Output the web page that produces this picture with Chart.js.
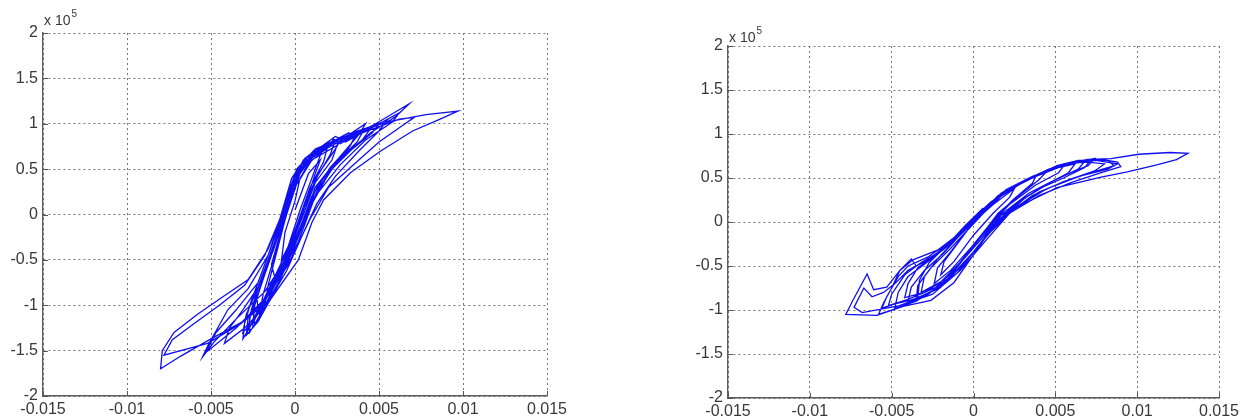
<!DOCTYPE html>
<html>
<head>
<meta charset="utf-8">
<script src="https://cdn.jsdelivr.net/npm/chart.js@4.4.1/dist/chart.umd.min.js"></script>
<style>
  html, body { margin: 0; padding: 0; background: #ffffff; }
  body { width: 1247px; height: 417px; position: relative; overflow: hidden; }
  .panel { position: absolute; top: 0; }
  #leftPanel { left: 0; }
  #rightPanel { left: 640px; }
</style>
</head>
<body>
<div class="panel" id="leftPanel"><canvas id="leftChart" width="600" height="417"></canvas></div>
<div class="panel" id="rightPanel"><canvas id="rightChart" width="607" height="417"></canvas></div>
<script>
// Tick labels shared by both hysteresis plots (force axis is in units of 10^5)
const xTickLabels = ['-0.015', '-0.01', '-0.005', '0', '0.005', '0.01', '0.015'];
const yTickLabels = ['-2', '-1.5', '-1', '-0.5', '0', '0.5', '1', '1.5', '2'];

// Left plot: drift vs. force (x 10^5), one row per loading cycle
const leftStrain = [
  0.0000, 0.0008, 0.0015, 0.0012, 0.0006, -0.0002, -0.0012, -0.0014, -0.0008, 0.0000,
  0.0010, 0.0025, 0.0022, 0.0012, 0.0004, -0.0007, -0.0022, -0.0023, -0.0014, -0.0004, 0.0004,
  0.0018, 0.0026, 0.0030, 0.0045, 0.0040, 0.0025, 0.0012, 0.0003, -0.0010, -0.0024, -0.0031, -0.0030, -0.0026, -0.0019, -0.0010, -0.0003, 0.0005,
  0.0014, 0.0020, 0.0025, 0.0048, 0.0068, 0.0060, 0.0045, 0.0030, 0.0016, 0.0007, -0.0004, -0.0018, -0.0035, -0.0048, -0.0055, -0.0052, -0.0040, -0.0028, -0.0016, -0.0008, 0.0001,
  0.0012, 0.0030, 0.0055, 0.0078, 0.0097, 0.0085, 0.0070, 0.0051, 0.0033, 0.0017, 0.0010, 0.0002, -0.0014, -0.0030, -0.0050, -0.0068, -0.0080, -0.0079, -0.0072, -0.0058, -0.0044, -0.0028, -0.0016, -0.0008, 0.0000, 0.0008,
  0.0022, 0.0040, 0.0062, 0.0071, 0.0064, 0.0050, 0.0035, 0.0020, 0.0009, -0.0004, -0.0018, -0.0032, -0.0052, -0.0078, -0.0073, -0.0060, -0.0045, -0.0030, -0.0018, -0.0009, -0.0002, 0.0006,
  0.0018, 0.0024, 0.0028, 0.0042, 0.0038, 0.0025, 0.0013, 0.0004, -0.0009, -0.0022, -0.0028, -0.0026, -0.0020, -0.0011, -0.0003, 0.0006,
  0.0020, 0.0045, 0.0062, 0.0058, 0.0042, 0.0027, 0.0012, 0.0002, -0.0014, -0.0035, -0.0053, -0.0047, -0.0035, -0.0022, -0.0013, -0.0004, 0.0004,
  0.0014, 0.0028, 0.0024, 0.0014, 0.0005, -0.0006, -0.0019, -0.0025, -0.0024, -0.0017, -0.0009, -0.0001, 0.0007, 0.0016, 0.0012, 0.0003, -0.0004, -0.0008, -0.0006, 0.0000, 0.0003,
  0.0010, 0.0022, 0.0034, 0.0050, 0.0046, 0.0034, 0.0022, 0.0011, 0.0002, -0.0009, -0.0020, -0.0027, -0.0027, -0.0021, -0.0014, -0.0006, 0.0002,
  0.0012, 0.0020, 0.0023, 0.0027, 0.0036, 0.0033, 0.0021, 0.0010, 0.0001, -0.0010, -0.0022, -0.0029, -0.0028, -0.0022, -0.0015, -0.0007, 0.0001,
  0.0009, 0.0019, 0.0017, 0.0009, 0.0001, -0.0008, -0.0017, -0.0021, -0.0019, -0.0012, -0.0005, 0.0003,
  0.0014, 0.0030, 0.0038, 0.0055, 0.0050, 0.0038, 0.0024, 0.0013, 0.0005, -0.0005, -0.0017, -0.0030, -0.0042, -0.0039, -0.0031, -0.0022, -0.0013, -0.0005, 0.0002,
  0.0011, 0.0024, 0.0021, 0.0012, 0.0004, -0.0006, -0.0015, -0.0018, -0.0016, -0.0010, -0.0003, 0.0004,
  0.0012, 0.0026, 0.0040, 0.0037, 0.0026, 0.0015, 0.0006, -0.0004, -0.0014, -0.0024, -0.0025, -0.0020, -0.0012, -0.0004, 0.0004,
  0.0016, 0.0032, 0.0036, 0.0031, 0.0020, 0.0009, -0.0001, -0.0012, -0.0026, -0.0031, -0.0029, -0.0023, -0.0016, -0.0008, 0.0000
];
const leftForceE5 = [
  0.05, 0.45, 0.60, 0.45, 0.10, -0.35, -0.70, -0.55, -0.15, 0.30,
  0.60, 0.76, 0.60, 0.35, -0.05, -0.55, -1.05, -0.85, -0.40, 0.10, 0.50,
  0.72, 0.84, 0.80, 0.95, 0.82, 0.60, 0.30, -0.20, -0.70, -1.15, -1.37, -1.20, -0.95, -0.60, -0.15, 0.30, 0.60,
  0.70, 0.80, 0.78, 1.00, 1.22, 1.08, 0.90, 0.66, 0.38, 0.00, -0.45, -0.85, -1.15, -1.40, -1.57, -1.45, -1.05, -0.82, -0.45, 0.00, 0.50,
  0.72, 0.86, 1.02, 1.10, 1.14, 1.04, 0.92, 0.70, 0.46, 0.16, -0.09, -0.50, -0.92, -1.17, -1.37, -1.56, -1.70, -1.50, -1.30, -1.10, -0.92, -0.72, -0.38, 0.00, 0.45, 0.65,
  0.80, 0.90, 1.05, 1.07, 0.98, 0.80, 0.55, 0.30, -0.05, -0.55, -0.95, -1.20, -1.42, -1.55, -1.38, -1.20, -1.00, -0.78, -0.45, -0.05, 0.40, 0.62,
  0.78, 0.86, 0.83, 1.00, 0.88, 0.60, 0.30, -0.10, -0.65, -1.05, -1.28, -1.05, -0.70, -0.25, 0.25, 0.58,
  0.78, 0.95, 1.12, 1.02, 0.82, 0.55, 0.20, -0.30, -0.85, -1.25, -1.52, -1.30, -1.05, -0.75, -0.30, 0.20, 0.55,
  0.70, 0.85, 0.72, 0.45, 0.05, -0.45, -0.95, -1.20, -1.00, -0.60, -0.15, 0.35, 0.60, 0.70, 0.50, 0.05, -0.35, -0.50, -0.20, 0.15, 0.40,
  0.62, 0.78, 0.90, 1.00, 0.90, 0.72, 0.50, 0.18, -0.25, -0.72, -1.08, -1.30, -1.12, -0.82, -0.45, 0.02, 0.45,
  0.66, 0.76, 0.83, 0.78, 0.88, 0.76, 0.52, 0.20, -0.25, -0.78, -1.18, -1.33, -1.15, -0.88, -0.50, -0.05, 0.42,
  0.62, 0.72, 0.58, 0.30, -0.12, -0.58, -0.98, -1.10, -0.88, -0.45, 0.00, 0.45,
  0.72, 0.86, 0.92, 1.04, 0.92, 0.70, 0.42, 0.12, -0.20, -0.62, -1.00, -1.25, -1.42, -1.25, -1.05, -0.80, -0.40, 0.05, 0.48,
  0.68, 0.82, 0.66, 0.38, 0.00, -0.50, -0.90, -1.00, -0.78, -0.35, 0.15, 0.52,
  0.66, 0.80, 0.90, 0.80, 0.60, 0.32, -0.05, -0.52, -0.92, -1.22, -1.05, -0.75, -0.30, 0.18, 0.50,
  0.74, 0.90, 0.86, 0.70, 0.45, 0.08, -0.38, -0.84, -1.20, -1.30, -1.10, -0.85, -0.52, -0.08, 0.38
];

// Right plot: drift vs. force (x 10^5), one row per loading cycle
const rightStrain = [
  0.0000, 0.0012, 0.0025, 0.0022, 0.0012, 0.0000, -0.0012, -0.0020, -0.0018, -0.0010, 0.0000,
  0.0015, 0.0030, 0.0045, 0.0040, 0.0028, 0.0015, 0.0003, -0.0010, -0.0025, -0.0035, -0.0034, -0.0026, -0.0015, -0.0005, 0.0006,
  0.0020, 0.0037, 0.0055, 0.0072, 0.0068, 0.0055, 0.0040, 0.0026, 0.0012, -0.0003, -0.0018, -0.0035, -0.0050, -0.0058, -0.0055, -0.0050, -0.0045, -0.0038, -0.0035, -0.0025, -0.0012, 0.0000,
  0.0015, 0.0035, 0.0055, 0.0070, 0.0084, 0.0101, 0.0120, 0.0131, 0.0124, 0.0112, 0.0094, 0.0078, 0.0051, 0.0029, 0.0017, 0.0002, -0.0012, -0.0026, -0.0043, -0.0059, -0.0078, -0.0074, -0.0065, -0.0061, -0.0053, -0.0045, -0.0037, -0.0022, -0.0010, 0.0000,
  0.0017, 0.0037, 0.0051, 0.0064, 0.0078, 0.0088, 0.0090, 0.0078, 0.0060, 0.0040, 0.0022, 0.0008, -0.0008, -0.0025, -0.0045, -0.0068, -0.0073, -0.0067, -0.0062, -0.0055, -0.0048, -0.0040, -0.0030, -0.0018, -0.0006, 0.0006,
  0.0020, 0.0040, 0.0060, 0.0075, 0.0088, 0.0082, 0.0065, 0.0045, 0.0025, 0.0010, -0.0005, -0.0020, -0.0040, -0.0052, -0.0050, -0.0042, -0.0032, -0.0020, -0.0008, 0.0004, 0.0015,
  0.0030, 0.0048, 0.0062, 0.0058, 0.0042, 0.0025, 0.0010, -0.0005, -0.0020, -0.0032, -0.0030, -0.0022, -0.0012, 0.0000, 0.0010,
  0.0022, 0.0040, 0.0055, 0.0068, 0.0064, 0.0048, 0.0032, 0.0016, 0.0002, -0.0014, -0.0028, -0.0040, -0.0038, -0.0030, -0.0018, -0.0006, 0.0006,
  0.0018, 0.0034, 0.0050, 0.0060, 0.0070, 0.0080, 0.0074, 0.0058, 0.0040, 0.0022, 0.0008, -0.0006, -0.0022, -0.0038, -0.0048, -0.0046, -0.0040, -0.0030, -0.0016, -0.0004, 0.0008,
  0.0024, 0.0038, 0.0036, 0.0024, 0.0012, -0.0001, -0.0014, -0.0024, -0.0022, -0.0014, -0.0004, 0.0008,
  0.0020, 0.0036, 0.0052, 0.0066, 0.0082, 0.0086, 0.0072, 0.0055, 0.0036, 0.0018, 0.0004, -0.0010, -0.0030, -0.0048, -0.0056, -0.0053, -0.0046, -0.0040, -0.0028, -0.0014, -0.0002, 0.0010,
  0.0016, 0.0030, 0.0046, 0.0056, 0.0052, 0.0038, 0.0022, 0.0008, -0.0006, -0.0018, -0.0030, -0.0042, -0.0040, -0.0034, -0.0024, -0.0012, 0.0000, 0.0010,
  0.0026, 0.0044, 0.0058, 0.0074, 0.0070, 0.0054, 0.0034, 0.0018, 0.0004, -0.0008, -0.0020, -0.0034, -0.0033, -0.0027, -0.0016, -0.0005, 0.0006
];
const rightForceE5 = [
  0.00, 0.20, 0.38, 0.28, 0.10, -0.15, -0.45, -0.60, -0.45, -0.25, 0.00,
  0.28, 0.45, 0.58, 0.48, 0.30, 0.10, -0.20, -0.50, -0.78, -0.88, -0.72, -0.52, -0.32, -0.12, 0.10,
  0.35, 0.51, 0.64, 0.71, 0.62, 0.50, 0.38, 0.20, -0.05, -0.35, -0.70, -0.90, -1.00, -1.05, -0.92, -0.75, -0.55, -0.42, -0.50, -0.40, -0.22, 0.00,
  0.30, 0.50, 0.66, 0.71, 0.72, 0.77, 0.79, 0.78, 0.71, 0.65, 0.57, 0.51, 0.39, 0.19, 0.08, -0.32, -0.69, -0.89, -0.96, -1.06, -1.05, -0.90, -0.59, -0.77, -0.74, -0.55, -0.43, -0.32, -0.15, 0.02,
  0.33, 0.52, 0.64, 0.70, 0.71, 0.68, 0.63, 0.56, 0.45, 0.30, 0.10, -0.20, -0.55, -0.82, -0.95, -1.03, -0.97, -0.75, -0.85, -0.80, -0.70, -0.55, -0.45, -0.30, -0.08, 0.12,
  0.36, 0.55, 0.67, 0.70, 0.66, 0.60, 0.52, 0.38, 0.15, -0.12, -0.45, -0.72, -0.88, -0.95, -0.82, -0.60, -0.46, -0.33, -0.12, 0.10, 0.27,
  0.45, 0.60, 0.66, 0.56, 0.40, 0.20, -0.08, -0.40, -0.68, -0.80, -0.62, -0.42, -0.22, 0.03, 0.20,
  0.38, 0.54, 0.64, 0.69, 0.60, 0.46, 0.28, 0.02, -0.30, -0.62, -0.82, -0.90, -0.74, -0.55, -0.35, -0.10, 0.14,
  0.34, 0.50, 0.62, 0.67, 0.68, 0.66, 0.58, 0.48, 0.34, 0.12, -0.15, -0.48, -0.76, -0.90, -0.97, -0.80, -0.62, -0.48, -0.28, -0.04, 0.18,
  0.40, 0.52, 0.44, 0.25, 0.02, -0.28, -0.55, -0.70, -0.52, -0.34, -0.10, 0.16,
  0.37, 0.52, 0.63, 0.70, 0.70, 0.64, 0.56, 0.46, 0.30, 0.05, -0.25, -0.58, -0.85, -0.93, -0.98, -0.85, -0.62, -0.50, -0.40, -0.22, -0.02, 0.22,
  0.30, 0.46, 0.60, 0.66, 0.56, 0.42, 0.20, -0.08, -0.42, -0.66, -0.80, -0.86, -0.70, -0.52, -0.38, -0.18, 0.04, 0.22,
  0.42, 0.57, 0.66, 0.72, 0.64, 0.52, 0.33, 0.10, -0.18, -0.46, -0.74, -0.86, -0.66, -0.46, -0.26, -0.04, 0.16
];

const FONT = '"Liberation Sans", Arial, Helvetica, sans-serif';
const TEXT_COLOR = '#383838';

// Draws the "x 10^5" multiplier above the force axis
const exponentLabel = {
  id: 'exponentLabel',
  afterDraw(chart, args, opts) {
    const { ctx, chartArea } = chart;
    const x = chartArea.left + opts.dx;
    const y = chartArea.top + opts.dy;
    ctx.save();
    ctx.fillStyle = TEXT_COLOR;
    ctx.textBaseline = 'alphabetic';
    ctx.textAlign = 'left';
    ctx.font = '14px ' + FONT;
    ctx.fillText('x 10', x, y);
    const w = ctx.measureText('x 10').width;
    ctx.font = '10px ' + FONT;
    ctx.fillText('5', x + w + 1, y - 8);
    ctx.restore();
  }
};

// Short tick marks pointing into the plot area
const innerTicks = {
  id: 'innerTicks',
  afterDatasetsDraw(chart) {
    const { ctx, chartArea, scales } = chart;
    ctx.save();
    ctx.strokeStyle = '#555555';
    ctx.lineWidth = 1;
    ctx.beginPath();
    scales.x.ticks.forEach(t => {
      const px = Math.round(scales.x.getPixelForValue(t.value)) + 0.5;
      ctx.moveTo(px, chartArea.bottom);
      ctx.lineTo(px, chartArea.bottom - 5);
    });
    scales.y.ticks.forEach(t => {
      const py = Math.round(scales.y.getPixelForValue(t.value)) + 0.5;
      ctx.moveTo(chartArea.left, py);
      ctx.lineTo(chartArea.left + 5, py);
    });
    ctx.stroke();
    ctx.restore();
  }
};

function buildChart(canvasId, strain, force, frame) {
  const points = strain.map((x, i) => ({ x: x, y: force[i] }));
  return new Chart(document.getElementById(canvasId), {
    type: 'scatter',
    data: {
      datasets: [{
        data: points,
        showLine: true,
        pointRadius: 0,
        borderColor: '#0f0ff2',
        borderWidth: 1.3,
        tension: 0
      }]
    },
    options: {
      responsive: false,
      animation: false,
      events: [],
      layout: { padding: { top: frame.top, right: frame.right, left: 0, bottom: 0 } },
      plugins: {
        legend: { display: false },
        tooltip: { enabled: false },
        exponentLabel: { dx: frame.expDx, dy: frame.expDy }
      },
      scales: {
        x: {
          type: 'linear',
          min: -0.015,
          max: 0.015,
          afterFit: s => { s.height = frame.xAxisHeight; },
          ticks: {
            stepSize: 0.005,
            autoSkip: false,
            maxRotation: 0,
            padding: 4,
            color: TEXT_COLOR,
            font: { family: FONT, size: 16 },
            callback: (v, i) => xTickLabels[i]
          },
          grid: { color: '#777777', lineWidth: 1, drawTicks: false },
          border: { display: true, color: '#5e5e5e', width: 1.4, dash: [2, 3] }
        },
        y: {
          type: 'linear',
          min: -2,
          max: 2,
          afterFit: s => { s.width = frame.yAxisWidth; },
          ticks: {
            stepSize: 0.5,
            autoSkip: false,
            padding: 5,
            color: TEXT_COLOR,
            font: { family: FONT, size: 16 },
            callback: (v, i) => yTickLabels[i]
          },
          grid: { color: '#777777', lineWidth: 1, drawTicks: false },
          border: { display: true, color: '#5e5e5e', width: 1.4, dash: [2, 3] }
        }
      }
    },
    plugins: [exponentLabel, innerTicks]
  });
}

buildChart('leftChart', leftStrain, leftForceE5, {
  top: 33, right: 53, yAxisWidth: 43, xAxisHeight: 21, expDx: 1, expDy: -8
});
buildChart('rightChart', rightStrain, rightForceE5, {
  top: 46, right: 28, yAxisWidth: 88, xAxisHeight: 19, expDx: 1, expDy: -4
});
</script>
</body>
</html>
